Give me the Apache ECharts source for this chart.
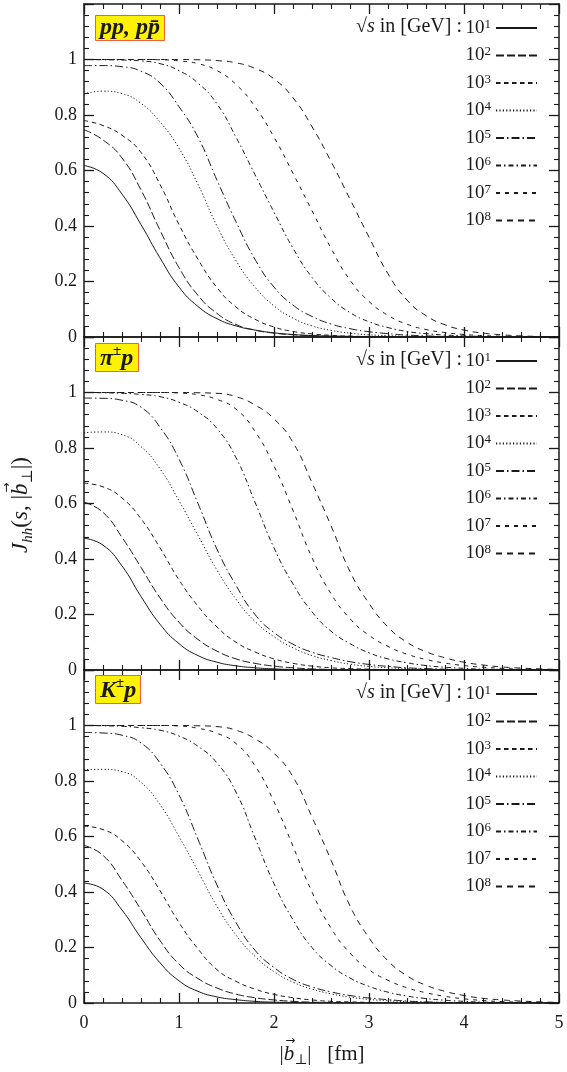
<!DOCTYPE html>
<html><head><meta charset="utf-8">
<script src="https://cdn.jsdelivr.net/npm/echarts@6/dist/echarts.min.js"></script>
<style>html,body{margin:0;padding:0;background:#fff}#c{width:567px;height:1072px}</style>
</head><body><div id="c"></div>
<script>
// impact parameter |b_perp| in fm
const B = [0,0.2,0.4,0.6,0.8,1,1.2,1.4,1.6,1.8,2,2.2,2.4,2.6,2.8,3,3.2,3.4,3.6,3.8,4,4.2,4.4,4.6,4.8,5];
const energyNames = ['10^1','10^2','10^3','10^4','10^5','10^6','10^7','10^8'];
const panelLabels = ['{b|pp, pp\u0304}', '{b|\u03C0}{s|\u00B1}{b|p}', '{b|K}{s|\u00B1}{b|p}'];
const xTicks = [0,1,2,3,4,5];
const yTicks = [0,0.2,0.4,0.6,0.8,1];

// pp, p pbar
const pp_1 = [0.618,0.59,0.515,0.405,0.285,0.18,0.11,0.066,0.04,0.025,0.015,0.009,0.005,0.003,0.002,0.001,0,0,0,0,0,0,0,0,0,0];
const pp_2 = [0.747,0.71,0.645,0.53,0.385,0.25,0.15,0.085,0.045,0.025,0.014,0.008,0.005,0.003,0.002,0.001,0,0,0,0,0,0,0,0,0,0];
const pp_3 = [0.78,0.762,0.727,0.665,0.55,0.405,0.28,0.178,0.108,0.064,0.036,0.02,0.011,0.006,0.003,0.002,0.001,0,0,0,0,0,0,0,0,0];
const pp_4 = [0.876,0.886,0.877,0.842,0.775,0.68,0.55,0.40,0.275,0.18,0.112,0.068,0.04,0.024,0.014,0.008,0.005,0.003,0.002,0.001,0,0,0,0,0,0];
const pp_5 = [0.978,0.978,0.974,0.958,0.915,0.83,0.72,0.565,0.415,0.28,0.18,0.115,0.074,0.047,0.03,0.019,0.012,0.007,0.004,0.002,0.001,0,0,0,0,0];
const pp_6 = [1.0,0.999,0.998,0.995,0.985,0.96,0.915,0.84,0.72,0.585,0.45,0.32,0.215,0.14,0.088,0.055,0.034,0.02,0.012,0.007,0.004,0.002,0.001,0,0,0];
const pp_7 = [1,1,1,1,0.999,0.995,0.985,0.96,0.91,0.83,0.72,0.59,0.455,0.32,0.205,0.128,0.078,0.046,0.027,0.016,0.009,0.005,0.003,0.001,0,0];
const pp_8 = [1,1,1,1,1,1,0.999,0.996,0.988,0.968,0.93,0.862,0.758,0.633,0.497,0.36,0.228,0.133,0.077,0.044,0.025,0.014,0.008,0.004,0.002,0.001];

// pi± p
const pip_1 = [0.475,0.45,0.375,0.265,0.165,0.095,0.052,0.028,0.015,0.008,0.004,0.002,0.001,0,0,0,0,0,0,0,0,0,0,0,0,0];
const pip_2 = [0.605,0.568,0.478,0.37,0.26,0.172,0.11,0.068,0.04,0.024,0.014,0.008,0.004,0.002,0.001,0,0,0,0,0,0,0,0,0,0,0];
const pip_3 = [0.673,0.66,0.62,0.545,0.44,0.325,0.23,0.155,0.1,0.065,0.04,0.024,0.014,0.008,0.005,0.003,0.001,0,0,0,0,0,0,0,0,0];
const pip_4 = [0.855,0.858,0.848,0.805,0.725,0.61,0.485,0.36,0.255,0.175,0.12,0.08,0.052,0.034,0.021,0.013,0.008,0.005,0.003,0.002,0.001,0,0,0,0,0];
const pip_5 = [0.98,0.979,0.972,0.947,0.875,0.76,0.6,0.435,0.305,0.2,0.135,0.093,0.064,0.045,0.03,0.02,0.013,0.008,0.005,0.003,0.002,0.001,0,0,0,0];
const pip_6 = [1.0,0.999,0.997,0.993,0.985,0.965,0.93,0.87,0.765,0.605,0.44,0.31,0.21,0.14,0.095,0.062,0.04,0.026,0.016,0.01,0.006,0.003,0.002,0.001,0,0];
const pip_7 = [1,1,1,1,1,0.998,0.992,0.975,0.94,0.86,0.735,0.575,0.405,0.275,0.185,0.125,0.085,0.057,0.038,0.025,0.016,0.01,0.006,0.003,0.002,0.001];
const pip_8 = [1,1,1,1,1,1,0.999,0.997,0.985,0.955,0.905,0.82,0.675,0.52,0.355,0.24,0.155,0.1,0.066,0.044,0.028,0.018,0.011,0.007,0.004,0.002];

// K± p
const kp_1 = [0.432,0.41,0.335,0.235,0.145,0.08,0.042,0.022,0.012,0.006,0.003,0.002,0.001,0,0,0,0,0,0,0,0,0,0,0,0,0];
const kp_2 = [0.568,0.532,0.442,0.336,0.225,0.14,0.088,0.054,0.032,0.019,0.011,0.006,0.003,0.002,0.001,0,0,0,0,0,0,0,0,0,0,0];
const kp_3 = [0.637,0.625,0.585,0.51,0.405,0.29,0.195,0.12,0.078,0.05,0.031,0.019,0.011,0.006,0.004,0.002,0.001,0,0,0,0,0,0,0,0,0];
const kp_4 = [0.841,0.842,0.834,0.795,0.715,0.6,0.475,0.348,0.245,0.168,0.113,0.075,0.05,0.033,0.021,0.013,0.008,0.005,0.003,0.002,0.001,0,0,0,0,0];
const kp_5 = [0.975,0.973,0.965,0.937,0.865,0.75,0.59,0.425,0.29,0.19,0.128,0.085,0.058,0.04,0.027,0.018,0.012,0.007,0.004,0.002,0.001,0,0,0,0,0];
const kp_6 = [1.0,0.999,0.997,0.992,0.983,0.962,0.925,0.865,0.76,0.595,0.43,0.3,0.2,0.135,0.09,0.06,0.039,0.025,0.016,0.01,0.006,0.003,0.002,0.001,0,0];
const kp_7 = [1,1,1,1,1,0.998,0.99,0.972,0.935,0.855,0.725,0.565,0.4,0.27,0.18,0.12,0.082,0.055,0.037,0.024,0.015,0.009,0.005,0.003,0.002,0.001];
const kp_8 = [1,1,1,1,1,1,0.999,0.996,0.983,0.952,0.9,0.815,0.67,0.515,0.35,0.235,0.152,0.098,0.064,0.042,0.027,0.017,0.011,0.007,0.004,0.002];

const panels = [
  [pp_1,pp_2,pp_3,pp_4,pp_5,pp_6,pp_7,pp_8],
  [pip_1,pip_2,pip_3,pip_4,pip_5,pip_6,pip_7,pip_8],
  [kp_1,kp_2,kp_3,kp_4,kp_5,kp_6,kp_7,kp_8]
];

const SERIF = "'Liberation Serif','DejaVu Serif',serif";
const INK = '#1a1a1a';
const dashes = ['solid',[8,3],[4.5,3.5],[1.2,2.2],[8,3,1.5,3],[5,3,1.5,3],[4,5],[6,5]];
const gridTops = [4,337,670];
const gridH = 333;

const grids = [], xAxes = [], yAxes = [], series = [], legends = [], titles = [], graphics = [];
const axisLine = {show:true, onZero:false, lineStyle:{color:INK, width:1.5}};
const tick = {show:true, inside:true, length:10, lineStyle:{color:INK, width:1.3}};
const minor = {show:true, splitNumber:5, length:5, lineStyle:{color:INK, width:1.1}};

gridTops.forEach((t,p) => {
  grids.push({left:84, right:8, top:t, height:gridH, show:false});
  xAxes.push({type:'value', gridIndex:p, position:'bottom', min:xTicks[0], max:xTicks[xTicks.length-1], interval:1,
    axisLine, axisTick:tick, minorTick:minor, splitLine:{show:false},
    axisLabel:{show:p===2, margin:11, fontFamily:SERIF, fontSize:18, color:INK}});
  xAxes.push({type:'value', gridIndex:p, position:'top', min:xTicks[0], max:xTicks[xTicks.length-1], interval:1,
    axisLine, axisTick:tick, minorTick:minor, splitLine:{show:false}, axisLabel:{show:false}});
  yAxes.push({type:'value', gridIndex:p, position:'left', min:0, max:1.2, interval:0.2,
    axisLine, axisTick:tick, minorTick:minor, splitLine:{show:false},
    axisLabel:{margin:7, fontFamily:SERIF, fontSize:18, color:INK,
      formatter: v => (v > yTicks[yTicks.length-1] + 0.05 ? '' : String(+v.toFixed(1)))}});
  yAxes.push({type:'value', gridIndex:p, position:'right', min:0, max:1.2, interval:0.2,
    axisLine, axisTick:tick, minorTick:minor, splitLine:{show:false}, axisLabel:{show:false}});

  panels[p].forEach((vals,k) => {
    series.push({type:'line', name:energyNames[k], xAxisIndex:p*2, yAxisIndex:p*2,
      data: B.map((b,i) => [b, vals[i]]), symbol:'none', showSymbol:false,
      smooth:0.5, silent:true, z:3, color:INK, itemStyle:{color:INK},
      lineStyle:{color:INK, width:1, type:dashes[k]}});
  });

  legends.push({orient:'vertical', right:24, top:t+9, itemWidth:41, itemHeight:14, itemGap:8,
    align:'right', selectedMode:false, data:energyNames,
    itemStyle:{opacity:0, color:'rgba(0,0,0,0)', borderWidth:0},
    formatter: n => '{b|10}{s|' + n.split('^')[1] + '}',
    textStyle:{fontFamily:SERIF, fontSize:19, color:INK, rich:{
      b:{fontFamily:SERIF,fontSize:19,color:INK,lineHeight:20},
      s:{fontFamily:SERIF,fontSize:13,color:INK,verticalAlign:'top',lineHeight:11}}}});

  titles.push({text:panelLabels[p], left:95, top:[12,343,675][p], padding:[1,5,1,5],
    backgroundColor:'#fff200', borderColor:'#f0603c', borderWidth:1,
    textStyle:{fontFamily:SERIF, fontSize:24, fontStyle:'italic', fontWeight:'bold', color:INK, rich:{
      b:{fontFamily:SERIF,fontSize:24,fontStyle:'italic',fontWeight:'bold',color:INK,lineHeight:27, verticalAlign:'bottom'},
      s:{fontFamily:SERIF,fontSize:15,fontWeight:'bold',color:INK,verticalAlign:'top',lineHeight:13}}}});

  graphics.push({type:'text', x:462, y:t+23, z:10, style:{
    text:'\u221A{i|s} in [GeV] :', align:'right', verticalAlign:'middle',
    font:'20px ' + SERIF, fill:INK,
    rich:{i:{fontFamily:SERIF,fontSize:20,fontStyle:'italic',fill:INK}}}});
});

// measuring helper for placing the vector arrow over b
const mctx = document.createElement('canvas').getContext('2d');
function tw(font, s){ mctx.font = font; return mctx.measureText(s).width; }
function mkRich(size, sub){
  return {
    n:{fontFamily:SERIF,fontSize:size,fill:INK,lineHeight:size+6},
    i:{fontFamily:SERIF,fontSize:size,fontStyle:'italic',fill:INK,lineHeight:size+6},
    sub:{fontFamily:SERIF,fontSize:sub,fill:INK,verticalAlign:'bottom',lineHeight:sub+1},
    subi:{fontFamily:SERIF,fontSize:sub,fontStyle:'italic',fill:INK,verticalAlign:'bottom',lineHeight:sub+1}
  };
}

// y-axis title: J_hh(s, |b_perp|)
(function(){
  const S = 23, s = 15;
  const FN = 'normal normal '+S+'px '+SERIF, FI = 'italic normal '+S+'px '+SERIF;
  const FS = 'normal normal '+s+'px '+SERIF, FSI = 'italic normal '+s+'px '+SERIF;
  const parts = [[FI,'J'],[FSI,'hh'],[FN,'('],[FI,'s'],[FN,', |'],[FI,'b'],[FS,'\u22A5'],[FN,'|)']];
  const W = parts.reduce((a,p)=>a+tw(p[0],p[1]),0);
  const before = parts.slice(0,5).reduce((a,p)=>a+tw(p[0],p[1]),0);
  const bc = -W/2 + before + tw(FI,'b')/2 + 1.5;
  graphics.push({type:'group', x:21, y:505, rotation:Math.PI/2, z:10, children:[
    {type:'text', x:0, y:0, style:{text:'{i|J}{subi|hh}{n|(}{i|s}{n|, |}{i|b}{sub|\u22A5}{n||)}',
      align:'center', verticalAlign:'middle', fill:INK, font:FN, rich:mkRich(S,s)}},
    {type:'text', x:bc, y:-14, style:{text:'\u2192', align:'center', verticalAlign:'middle',
      font:'12px DejaVu Sans', fill:INK}}
  ]});
})();

// x-axis title: |b_perp|  [fm]
(function(){
  const S = 21, s = 14;
  const FN = 'normal normal '+S+'px '+SERIF, FI = 'italic normal '+S+'px '+SERIF;
  const FS = 'normal normal '+s+'px '+SERIF;
  const parts = [[FN,'|'],[FI,'b'],[FS,'\u22A5'],[FN,'|   [fm]']];
  const W = parts.reduce((a,p)=>a+tw(p[0],p[1]),0);
  const bc = 322 - W/2 + tw(FN,'|') + tw(FI,'b')/2 + 1.5;
  graphics.push({type:'text', x:322, y:1054, z:10, style:{text:'{n||}{i|b}{sub|\u22A5}{n||   [fm]}',
    align:'center', verticalAlign:'middle', fill:INK, font:FN, rich:mkRich(S,s)}});
  graphics.push({type:'text', x:bc, y:1041, z:10, style:{text:'\u2192', align:'center', verticalAlign:'middle',
    font:'12px DejaVu Sans', fill:INK}});
})();

const chart = echarts.init(document.getElementById('c'), null, {renderer:'canvas'});
chart.setOption({
  animation:false,
  backgroundColor:'#ffffff',
  title:titles, legend:legends, grid:grids, xAxis:xAxes, yAxis:yAxes, series, graphic:graphics
});
</script></body></html>
